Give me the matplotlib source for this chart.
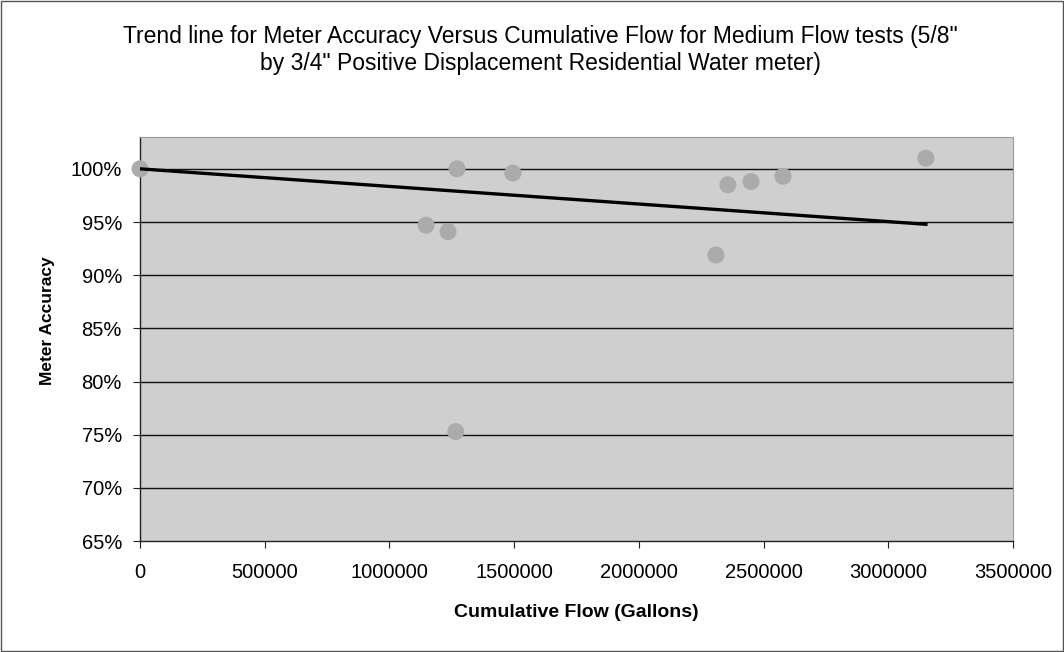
import numpy as np
import matplotlib.pyplot as plt
from matplotlib.ticker import PercentFormatter
from matplotlib.patches import Rectangle

# cumulative flow (gallons) and meter accuracy
flow = [0, 1147000, 1235000, 1271000, 1266000, 1495000,
        2309000, 2357000, 2450000, 2578000, 3151000]
accuracy = [1.000, 0.947, 0.941, 1.000, 0.753, 0.996,
            0.919, 0.985, 0.988, 0.993, 1.010]

title = ('Trend line for Meter Accuracy Versus Cumulative Flow for Medium Flow tests (5/8"\n'
         'by 3/4" Positive Displacement Residential Water meter)')

plt.rcParams['font.family'] = ['Liberation Sans', 'DejaVu Sans']

def trend(x, y):
	# linear trend with the intercept fixed at 100%
	x = np.array(x, dtype=float)
	y = np.array(y) - 1.0
	slope = np.sum(x*y) / np.sum(x*x)
	xs = np.array([0, x.max()])
	return xs, 1.0 + slope*xs

fig = plt.figure(figsize=(10.64, 6.52), dpi=100)
ax = fig.add_axes([0.1316, 0.170, 0.8204, 0.620])
fig.patches.append(Rectangle((0.001, 0.001), 0.998, 0.998, transform=fig.transFigure,
                             fill=False, edgecolor='#555555', linewidth=1))

ax.set_facecolor('#cfcfcf')
ax.set_xlim(0, 3500000)
ax.set_ylim(0.65, 1.03)
ax.set_xticks(np.arange(0, 3500001, 500000))
ax.set_yticks(np.arange(0.65, 1.001, 0.05))
ax.yaxis.set_major_formatter(PercentFormatter(1.0, decimals=0))
ax.xaxis.set_major_formatter(plt.FuncFormatter(lambda v, p: '%d' % v))

for yv in np.arange(0.70, 1.001, 0.05):
	ax.axhline(yv, color='#111111', linewidth=1.0, zorder=1)

ax.scatter(flow, accuracy, s=150, color='#ababab', edgecolors='none', zorder=3, clip_on=False)
tx, ty = trend(flow, accuracy)
ax.plot(tx, ty, color='black', linewidth=2.4, zorder=4)

for s in ['top', 'right']:
	ax.spines[s].set_color('#9a9a9a')
	ax.spines[s].set_linewidth(0.8)
for s in ['left', 'bottom']:
	ax.spines[s].set_color('#222222')
	ax.spines[s].set_linewidth(1.0)

ax.tick_params(axis='both', direction='out', length=5, width=0.8, labelsize=14.5, color='#222222')
ax.tick_params(axis='x', pad=11)
ax.tick_params(axis='y', pad=8)

ax.set_xlabel('Cumulative Flow (Gallons)', fontsize=14, fontweight='bold')
ax.set_ylabel('Meter Accuracy', fontsize=12.5, fontweight='bold')
ax.xaxis.set_label_coords(0.5, -0.155)
ax.yaxis.set_label_coords(-0.097, 0.545)
fig.text(0.508, 0.923, title, ha='center', va='center', fontsize=16.5, linespacing=1.2)

fig.savefig('out.png', dpi=100)
